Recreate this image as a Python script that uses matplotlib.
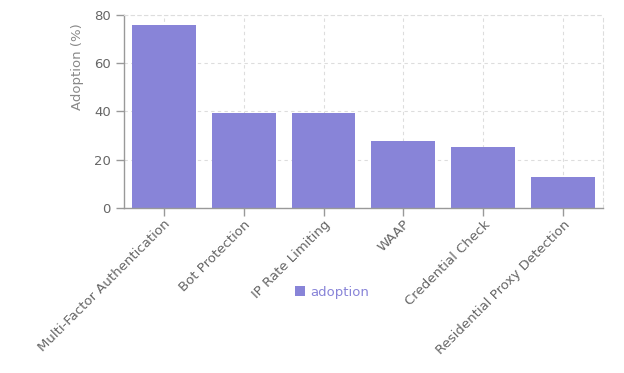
import matplotlib
matplotlib.use("Agg")
import matplotlib.pyplot as plt
from matplotlib.patches import Patch

categories = ["Multi-Factor Authentication", "Bot Protection", "IP Rate Limiting",
              "WAAP", "Credential Check", "Residential Proxy Detection"]
adoption = [76, 39.4, 39.4, 27.7, 25.3, 12.8]

bar_color = "#8884d8"
text_color = "#666666"
axis_color = "#999999"

plt.rcParams['font.family'] = ['DejaVu Sans']

fig = plt.figure(figsize=(6.24, 3.73), dpi=100)
ax = fig.add_axes([0.1987, 0.4424, 0.7676, 0.5174])

x = list(range(len(categories)))
ax.bar(x, adoption, width=0.8, color=bar_color, zorder=2)

ax.set_xlim(-0.5, len(categories) - 0.5)
ax.set_ylim(0, 80)
ax.set_yticks([0, 20, 40, 60, 80])

ax.grid(True, color="#dddddd", linestyle=(0, (3, 3)), linewidth=0.8, zorder=0)

for s in ["top", "right"]:
    ax.spines[s].set_color("#dddddd")
    ax.spines[s].set_linestyle((0, (3, 3)))
    ax.spines[s].set_linewidth(0.8)
for s in ["left", "bottom"]:
    ax.spines[s].set_color(axis_color)
    ax.spines[s].set_linewidth(1)

ax.set_xticks(x)
ax.set_xticklabels(categories, rotation=45, ha="right", rotation_mode="anchor",
                   fontsize=9.5, color=text_color)
ax.tick_params(axis="both", colors=axis_color, length=6, width=1, labelsize=9.5)
ax.tick_params(axis="x", pad=1)
for lbl in ax.get_yticklabels():
    lbl.set_color(text_color)
for lbl in ax.get_xticklabels():
    lbl.set_color(text_color)

ax.set_ylabel("Adoption (%)", fontsize=9.5, color="#888888")
ax.yaxis.set_label_coords(-0.084, 0.735)

handle = Patch(facecolor=bar_color, edgecolor="none")
leg = fig.legend([handle], ["adoption"], loc="center", bbox_to_anchor=(0.532, 0.217),
                 frameon=False, fontsize=9.5, handlelength=0.8, handleheight=0.8,
                 handletextpad=0.4)
for t in leg.get_texts():
    t.set_color(bar_color)

fig.savefig("out.png", dpi=100)
